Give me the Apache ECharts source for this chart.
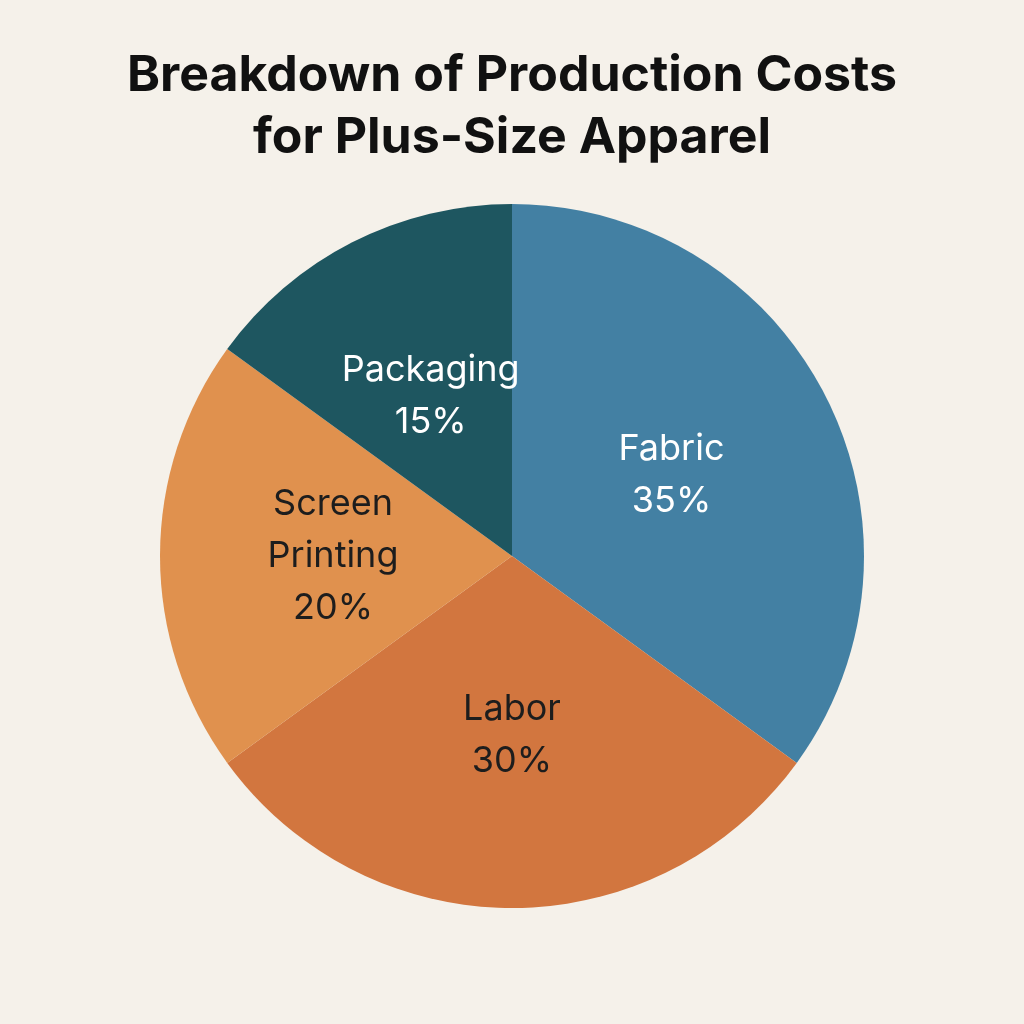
<!DOCTYPE html>
<html>
<head>
<meta charset="utf-8">
<script src="https://cdn.jsdelivr.net/npm/echarts@6/dist/echarts.min.js"></script>
<style>
  html, body { margin: 0; padding: 0; background: #f5f1ea; }
  #chart { width: 1024px; height: 1024px; }
</style>
</head>
<body>
<div id="chart"></div>
<script>
// data
var categories = ['Fabric', 'Labor', 'Screen Printing', 'Packaging'];
var shares = [35, 30, 20, 15];
var labelText = ['Fabric', 'Labor', 'Screen\nPrinting', 'Packaging'];
var colors = ['#4380a3', '#d2763f', '#e0914e', '#1e5660'];
var labelColors = ['#ffffff', '#1d1d1d', '#1d1d1d', '#ffffff'];

var chart = echarts.init(document.getElementById('chart'));
chart.setOption({
    backgroundColor: '#f5f1ea',
    title: {
        text: 'Breakdown of Production Costs\nfor Plus-Size Apparel',
        left: 'center',
        top: 40,
        textStyle: {
            fontFamily: 'Inter, "Noto Sans", sans-serif',
            fontSize: 50,
            fontWeight: 'bold',
            color: '#111111',
            lineHeight: 62
        }
    },
    series: [{
        type: 'pie',
        center: [512, 556],
        radius: 352,
        startAngle: 90,
        clockwise: true,
        label: {
            position: 'inner',
            fontFamily: 'Inter, "Noto Sans", sans-serif',
            fontSize: 36,
            lineHeight: 52
        },
        labelLine: { show: false },
        itemStyle: { borderWidth: 0 },
        data: categories.map(function (c, i) {
            return {
                name: c,
                value: shares[i],
                itemStyle: { color: colors[i] },
                label: {
                    formatter: labelText[i] + '\n' + shares[i] + '%',
                    color: labelColors[i]
                }
            };
        })
    }]
});
</script>
</body>
</html>
